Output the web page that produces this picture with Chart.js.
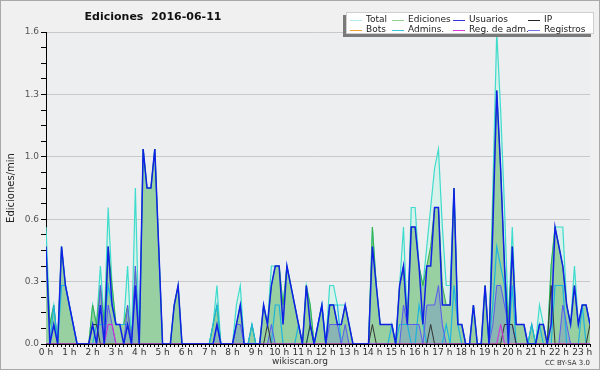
<!DOCTYPE html>
<html>
<head>
<meta charset="utf-8">
<script src="https://cdn.jsdelivr.net/npm/chart.js@4.4.1/dist/chart.umd.min.js"></script>
<style>
  html, body { margin: 0; padding: 0; background: #f0f0f0; }
  canvas { display: block; }
</style>
</head>
<body>
<canvas id="chart" width="600" height="370"></canvas>
<script>
// Editions per minute, one value per 10-minute slot (0 h .. 23 h 20).
var hourTicks = ['0 h', '1 h', '2 h', '3 h', '4 h', '5 h', '6 h', '7 h', '8 h', '9 h', '10 h', '11 h',
  '12 h', '13 h', '14 h', '15 h', '16 h', '17 h', '18 h', '19 h', '20 h', '21 h', '22 h', '23 h'];
var yTicks = ['0.0', '0.3', '0.6', '1.0', '1.3', '1.6'];

var total = [
  .6, .1, .2, 0, .5, .3, .2, .1, 0, 0,
  0, 0, .2, .1, .4, .1, .7, .3, .1, .1,
  .1, .4, 0, .8, 0, 1, .8, .8, 1, .5,
  0, 0, 0, .2, .3, 0, 0, 0, 0, 0,
  0, 0, 0, .1, .3, 0, 0, 0, 0, .2,
  .3, 0, 0, .1, 0, 0, .2, .1, .4, .4,
  .4, .2, .4, .3, .2, .1, 0, .3, .2, 0,
  .1, .2, 0, .3, .3, .2, .2, .2, .1, 0,
  0, 0, 0, 0, .6, .3, .1, .1, .1, .1,
  0, .3, .6, .1, .7, .7, .4, .3, .5, .7,
  .9, 1, .6, .3, .3, .8, .1, .1, 0, 0,
  .2, 0, 0, .3, 0, .8, 1.6, 1.2, .7, .1,
  .6, .1, .1, .1, 0, .1, 0, .2, .1, 0,
  .4, .6, .6, .6, .2, .1, .4, .1, .2, .2, .1
];
var edits = [
  .5, .1, .2, 0, .5, .3, .2, .1, 0, 0,
  0, 0, .2, .1, .3, .1, .5, .3, .1, .1,
  .1, .2, 0, .4, 0, 1, .8, .8, 1, .5,
  0, 0, 0, .2, .3, 0, 0, 0, 0, 0,
  0, 0, 0, .1, .2, 0, 0, 0, 0, .1,
  .2, 0, 0, .1, 0, 0, .2, .1, .3, .4,
  .4, .2, .4, .3, .2, .1, 0, .3, .2, 0,
  .1, .2, 0, .2, .2, .1, .1, .2, .1, 0,
  0, 0, 0, 0, .6, .3, .1, .1, .1, .1,
  0, .3, .4, .1, .6, .6, .4, .3, .4, .5,
  .7, .7, .3, .2, .2, .8, .1, .1, 0, 0,
  .2, 0, 0, .3, 0, .7, 1.3, .9, .4, .1,
  .5, .1, .1, .1, 0, .1, 0, .1, .1, 0,
  .4, .6, .5, .4, .2, .1, .3, .1, .2, .2, .1
];
var users = [
  .5, 0, .1, 0, .5, .3, .2, .1, 0, 0,
  0, 0, .1, 0, .2, 0, .5, .2, .1, .1,
  0, .1, 0, .3, 0, 1, .8, .8, 1, .5,
  0, 0, 0, .2, .3, 0, 0, 0, 0, 0,
  0, 0, 0, 0, .1, 0, 0, 0, 0, .1,
  .2, 0, 0, 0, 0, 0, .2, .1, .3, .4,
  .4, .1, .4, .3, .2, .1, 0, .3, .1, 0,
  .1, .2, 0, .2, .2, .1, .1, .2, .1, 0,
  0, 0, 0, 0, .5, .3, .1, .1, .1, .1,
  0, .3, .4, .1, .6, .6, .4, .1, .4, .4,
  .7, .7, .2, .2, .2, .8, .1, .1, 0, 0,
  .2, 0, 0, .3, 0, .6, 1.3, .9, .4, 0,
  .5, .1, .1, .1, 0, 0, 0, .1, .1, 0,
  .1, .6, .5, .4, .2, .1, .3, .1, .2, .2, .1
];
var ip = [
  0, 0, 0, 0, 0, 0, 0, 0, 0, 0,
  0, 0, .1, .1, 0, 0, 0, 0, 0, 0,
  0, 0, 0, 0, 0, 0, 0, 0, 0, 0,
  0, 0, 0, 0, 0, 0, 0, 0, 0, 0,
  0, 0, 0, 0, 0, 0, 0, 0, 0, 0,
  0, 0, 0, 0, 0, 0, 0, .1, 0, 0,
  0, 0, 0, 0, 0, 0, 0, 0, .1, 0,
  0, 0, 0, 0, 0, 0, 0, 0, 0, 0,
  0, 0, 0, 0, .1, 0, 0, 0, 0, 0,
  0, 0, 0, 0, 0, 0, 0, 0, 0, .1,
  0, 0, 0, 0, 0, 0, 0, 0, 0, 0,
  0, 0, 0, 0, 0, 0, 0, 0, .1, .1,
  .1, 0, 0, 0, 0, 0, 0, 0, 0, 0,
  .3, 0, 0, 0, 0, 0, 0, 0, 0, 0, .1
];
var bots = [
  0, 0, 0, 0, 0, 0, 0, 0, 0, 0,
  0, 0, 0, 0, 0, 0, 0, 0, 0, 0,
  0, 0, 0, 0, 0, 0, 0, 0, 0, 0,
  0, 0, 0, 0, 0, 0, 0, 0, 0, 0,
  0, 0, 0, 0, 0, 0, 0, 0, 0, 0,
  0, 0, 0, 0, 0, 0, 0, 0, 0, 0,
  0, 0, 0, 0, 0, 0, 0, 0, 0, 0,
  0, 0, 0, 0, 0, 0, 0, 0, 0, 0,
  0, 0, 0, 0, 0, 0, 0, 0, 0, 0,
  0, 0, 0, 0, 0, 0, 0, 0, 0, 0,
  0, 0, 0, 0, 0, 0, 0, 0, 0, 0,
  0, 0, 0, 0, 0, 0, 0, 0, 0, 0,
  0, 0, 0, 0, 0, 0, 0, 0, 0, 0,
  0, 0, 0, 0, 0, 0, 0, 0, 0, 0, 0
];
var admins = [
  0, 0, .2, 0, .3, .3, .2, .1, 0, 0,
  0, 0, 0, .1, .1, .1, .3, .2, .1, .1,
  .1, .1, 0, 0, 0, 0, 0, 0, 0, 0,
  0, 0, 0, 0, 0, 0, 0, 0, 0, 0,
  0, 0, 0, .1, .2, 0, 0, 0, 0, 0,
  0, 0, 0, .1, 0, 0, 0, 0, 0, .2,
  .2, 0, 0, 0, 0, .1, 0, 0, .1, 0,
  .1, .2, 0, .2, .2, .2, 0, 0, 0, 0,
  0, 0, 0, 0, 0, 0, 0, 0, 0, .1,
  0, .1, .1, .1, 0, 0, .2, .1, 0, 0,
  0, 0, 0, .1, 0, .3, .1, 0, 0, 0,
  0, 0, 0, 0, 0, .2, .5, .4, .3, 0,
  .3, 0, 0, 0, 0, .1, 0, .1, 0, 0,
  0, .3, .3, .3, 0, 0, 0, 0, .2, 0, 0
];
var adminLogs = [
  0, 0, 0, 0, 0, 0, 0, 0, 0, 0,
  0, 0, 0, 0, 0, 0, .1, .1, 0, 0,
  0, 0, 0, 0, 0, 0, 0, 0, 0, 0,
  0, 0, 0, 0, 0, 0, 0, 0, 0, 0,
  0, 0, 0, 0, 0, 0, 0, 0, 0, 0,
  0, 0, 0, 0, 0, 0, 0, 0, 0, 0,
  0, 0, 0, 0, 0, 0, 0, 0, 0, 0,
  0, 0, 0, 0, 0, 0, 0, 0, 0, 0,
  0, 0, 0, 0, 0, 0, 0, 0, 0, 0,
  0, 0, 0, 0, 0, 0, 0, 0, 0, 0,
  0, 0, 0, 0, 0, 0, 0, 0, 0, 0,
  0, 0, 0, 0, 0, 0, 0, .1, 0, 0,
  0, 0, 0, 0, 0, 0, 0, 0, 0, 0,
  0, 0, 0, 0, 0, 0, 0, 0, 0, 0, 0
];
var logs = [
  0, 0, 0, 0, 0, 0, 0, 0, 0, 0,
  0, 0, 0, 0, .3, 0, .2, .1, 0, 0,
  0, .2, 0, .4, 0, 0, 0, 0, 0, 0,
  0, 0, 0, 0, 0, 0, 0, 0, 0, 0,
  0, 0, 0, 0, .1, 0, 0, 0, 0, .1,
  .1, 0, 0, 0, 0, 0, 0, 0, .1, 0,
  0, 0, 0, 0, 0, 0, 0, 0, 0, 0,
  0, 0, 0, .1, .1, .1, 0, .1, 0, 0,
  0, 0, 0, 0, 0, 0, 0, 0, 0, 0,
  0, 0, .2, .1, .1, .1, .1, 0, .2, .2,
  .2, .3, .1, 0, 0, 0, 0, 0, 0, 0,
  0, 0, 0, 0, 0, .1, .3, .3, .2, .1,
  .1, 0, 0, 0, 0, 0, 0, 0, 0, 0,
  0, 0, 0, .2, .1, 0, 0, 0, 0, 0, 0
];

var FONT = '"DejaVu Sans", Verdana, sans-serif';

// Legend entries: label, swatch colour (4 columns, 2 rows).
var legendItems = [
  ['Total', '#aeeeee'], ['Ediciones', '#8fd08f'], ['Usuarios', '#3434e0'], ['IP', '#222222'],
  ['Bots', '#f4a23a'], ['Admins.', '#38c8dc'], ['Reg. de adm.', '#d838d8'], ['Registros', '#7474ee']
];

function points(values) {
  return values.map(function (v, i) { return {x: i, y: v}; });
}

function line(label, values, color, width, order, fill) {
  return {
    label: label,
    data: points(values),
    borderColor: color,
    borderWidth: width,
    backgroundColor: fill || 'transparent',
    fill: fill ? 'origin' : false,
    pointRadius: 0,
    tension: 0,
    order: order
  };
}

var decor = {
  id: 'decor',
  beforeDraw: function (chart) {
    var ctx = chart.ctx;
    var a = chart.chartArea;
    ctx.save();
    ctx.fillStyle = '#f0f0f0';
    ctx.fillRect(0, 0, chart.width, chart.height);
    ctx.fillStyle = '#edeef0';
    ctx.fillRect(a.left, a.top, a.right - a.left, a.bottom - a.top);
    ctx.strokeStyle = '#a9a9a9';
    ctx.lineWidth = 1;
    ctx.strokeRect(0.5, 0.5, chart.width - 1, chart.height - 1);
    ctx.restore();
  },
  afterDraw: function (chart) {
    var ctx = chart.ctx;
    var a = chart.chartArea;
    ctx.save();
    // Title.
    ctx.fillStyle = '#111';
    ctx.font = 'bold 11px ' + FONT;
    ctx.textAlign = 'center';
    ctx.textBaseline = 'middle';
    ctx.fillText('Ediciones  2016-06-11', 153, 17);

    // Axis title.
    ctx.save();
    ctx.translate(11, (a.top + a.bottom) / 2);
    ctx.rotate(-Math.PI / 2);
    ctx.font = '10px ' + FONT;
    ctx.fillStyle = '#222';
    ctx.fillText('Ediciones/min', 0, 0);
    ctx.restore();

    // Footer.
    ctx.font = '9px ' + FONT;
    ctx.fillStyle = '#333';
    ctx.fillText('wikiscan.org', 300, 362);
    ctx.font = '7px ' + FONT;
    ctx.textAlign = 'right';
    ctx.fillText('CC BY-SA 3.0', 590, 363);

    // Legend box with shadow.
    ctx.fillStyle = '#7a7a7a';
    ctx.fillRect(343, 15, 248, 22);
    ctx.fillStyle = '#ffffff';
    ctx.fillRect(346, 12, 248, 22);
    ctx.strokeStyle = '#cfcfcf';
    ctx.strokeRect(346.5, 12.5, 247, 21);

    var cols = [350, 392, 453, 528];
    var rows = [19.5, 29.5];
    ctx.font = '9px ' + FONT;
    ctx.textAlign = 'left';
    legendItems.forEach(function (item, k) {
      var x = cols[k % 4];
      var y = rows[Math.floor(k / 4)];
      ctx.strokeStyle = item[1];
      ctx.lineWidth = 1;
      ctx.beginPath();
      ctx.moveTo(x, Math.round(y) + 0.5);
      ctx.lineTo(x + 12, Math.round(y) + 0.5);
      ctx.stroke();
      ctx.fillStyle = '#222';
      ctx.fillText(item[0], x + 16, y);
    });
    ctx.restore();
  }
};

new Chart(document.getElementById('chart'), {
  type: 'line',
  data: {
    datasets: [
      line('Usuarios', users, '#1020e6', 1.5, 0),
      line('Reg. de adm.', adminLogs, '#d828d8', 1, 1),
      line('IP', ip, '#333333', 1, 2),
      line('Registros', logs, '#5a5af0', 1, 3, 'rgba(90, 100, 235, 0.25)'),
      line('Admins.', admins, '#1cb4e0', 1.2, 4),
      line('Ediciones', edits, '#3cae45', 1, 5, 'rgba(125, 194, 130, 0.7)'),
      line('Total', total, '#3ddccc', 1.2, 6, '#d8f1ea'),
      line('Bots', bots, '#f4a23a', 1, 7)
    ]
  },
  plugins: [decor],
  options: {
    responsive: false,
    animation: false,
    devicePixelRatio: 1,
    layout: {padding: {top: 32, right: 10, left: 0, bottom: 0}},
    plugins: {
      legend: {display: false},
      tooltip: {enabled: false},
      filler: {drawTime: 'beforeDatasetsDraw'}
    },
    scales: {
      x: {
        type: 'linear',
        min: 0,
        max: 140,
        z: 1,
        afterFit: function (scale) { scale.height = 26; },
        border: {display: true, color: '#000', width: 1},
        grid: {drawOnChartArea: false, drawTicks: true, tickLength: 3, tickColor: '#000'},
        ticks: {
          stepSize: 1,
          autoSkip: false,
          maxRotation: 0,
          padding: 0,
          color: '#333',
          font: {family: FONT, size: 9},
          callback: function (v) { return v % 6 === 0 ? hourTicks[v / 6] : ''; }
        }
      },
      y: {
        min: 0,
        max: 1.6,
        afterFit: function (scale) { scale.width = 46; },
        border: {display: true, color: '#000', width: 1},
        grid: {
          tickLength: 5,
          tickColor: '#000',
          color: function (c) {
            var k = Math.round(c.tick.value / 0.08);
            return (k % 4 === 0 && k > 0) ? '#c9c9c9' : 'transparent';
          }
        },
        ticks: {
          stepSize: 0.08,
          autoSkip: false,
          padding: 2,
          color: '#555',
          font: {family: FONT, size: 9},
          callback: function (v) {
            var k = Math.round(v / 0.08);
            return k % 4 === 0 ? yTicks[k / 4] : '';
          }
        }
      }
    }
  }
});
</script>
</body>
</html>
